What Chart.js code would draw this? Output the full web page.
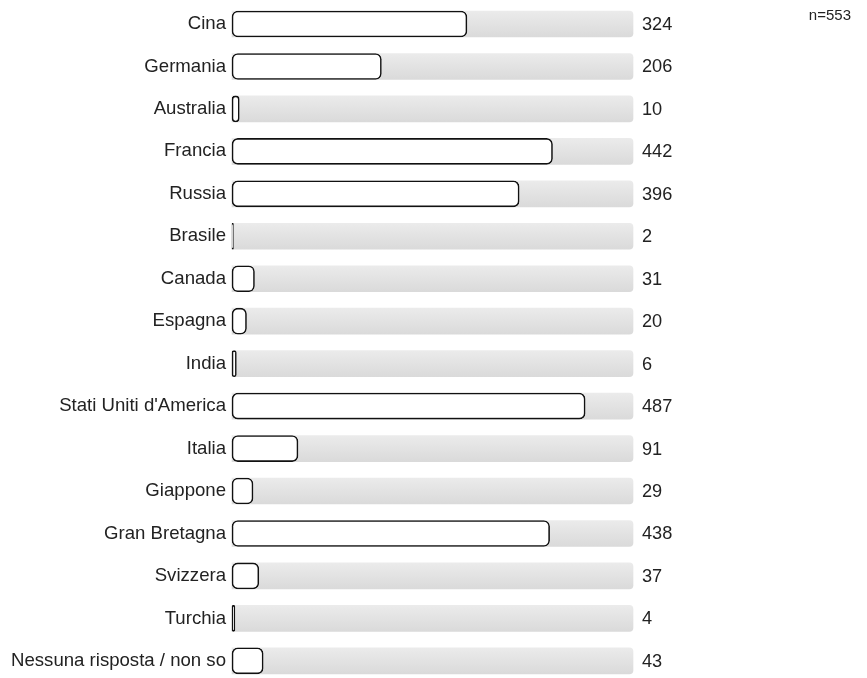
<!DOCTYPE html>
<html>
<head>
<meta charset="utf-8">
<script src="https://cdn.jsdelivr.net/npm/chart.js@4"></script>
<style>
  html, body { margin: 0; padding: 0; background: #fff; }
  #wrap { width: 867px; height: 678px; position: relative; }
</style>
</head>
<body>
<div id="wrap"><canvas id="chart"></canvas></div>
<script>
// data
const countries = ["Cina", "Germania", "Australia", "Francia", "Russia", "Brasile", "Canada", "Espagna",
  "India", "Stati Uniti d'America", "Italia", "Giappone", "Gran Bretagna", "Svizzera", "Turchia",
  "Nessuna risposta / non so"];
const answers = [324, 206, 10, 442, 396, 2, 31, 20, 6, 487, 91, 29, 438, 37, 4, 43];
const total = 553;
const trackValues = countries.map(() => total);

const font = "'Liberation Sans', Arial, sans-serif";

// grey track, light at the top and darker at the bottom
function trackColor(c) {
  const ys = c.chart.scales.y;
  if (!ys || c.dataIndex == null) return '#e3e3e3';
  const y = ys.getPixelForValue(c.dataIndex);
  if (!isFinite(y)) return '#e3e3e3';
  const g = c.chart.ctx.createLinearGradient(0, y - 13, 0, y + 13);
  g.addColorStop(0, '#ebebeb');
  g.addColorStop(1, '#dadada');
  return g;
}

// value labels on the right + the n= note
const labelsPlugin = {
  id: 'labels',
  afterDatasetsDraw(chart) {
    const c = chart.ctx, xs = chart.scales.x, ys = chart.scales.y;
    c.save();
    c.font = '18.2px ' + font;
    c.fillStyle = '#222';
    c.textBaseline = 'middle';
    c.textAlign = 'left';
    answers.forEach((v, i) => {
      c.fillText(String(v), xs.getPixelForValue(total) + 9, ys.getPixelForValue(i) + 1);
    });
    c.font = '15px ' + font;
    c.textAlign = 'right';
    c.fillText('n=' + total, 851, 16);
    c.restore();
  }
};

new Chart(document.getElementById('chart').getContext('2d'), {
  type: 'bar',
  data: {
    labels: countries,
    datasets: [{
      data: answers,
      backgroundColor: '#ffffff',
      borderColor: '#111111',
      borderWidth: 1.6,
      borderSkipped: false,
      borderRadius: 6,
      barThickness: 26,
      grouped: false,
      clip: false
    }, {
      data: trackValues,
      backgroundColor: trackColor,
      borderWidth: 0,
      borderRadius: 4,
      barThickness: 26,
      grouped: false,
      clip: false
    }]
  },
  options: {
    indexAxis: 'y',
    responsive: true,
    maintainAspectRatio: false,
    animation: false,
    layout: { padding: { left: 0, right: 234, top: 24, bottom: 14 } },
    scales: {
      x: {
        display: false,
        min: 0,
        max: total
      },
      y: {
        offset: false,
        grid: { display: false, drawTicks: false },
        border: { display: false },
        ticks: { color: '#222', font: { size: 18.6, family: font }, padding: 6 },
        afterFit(scale) { scale.width = 232; }
      }
    },
    plugins: {
      legend: { display: false },
      tooltip: { enabled: false }
    }
  },
  plugins: [labelsPlugin]
});
</script>
</body>
</html>
